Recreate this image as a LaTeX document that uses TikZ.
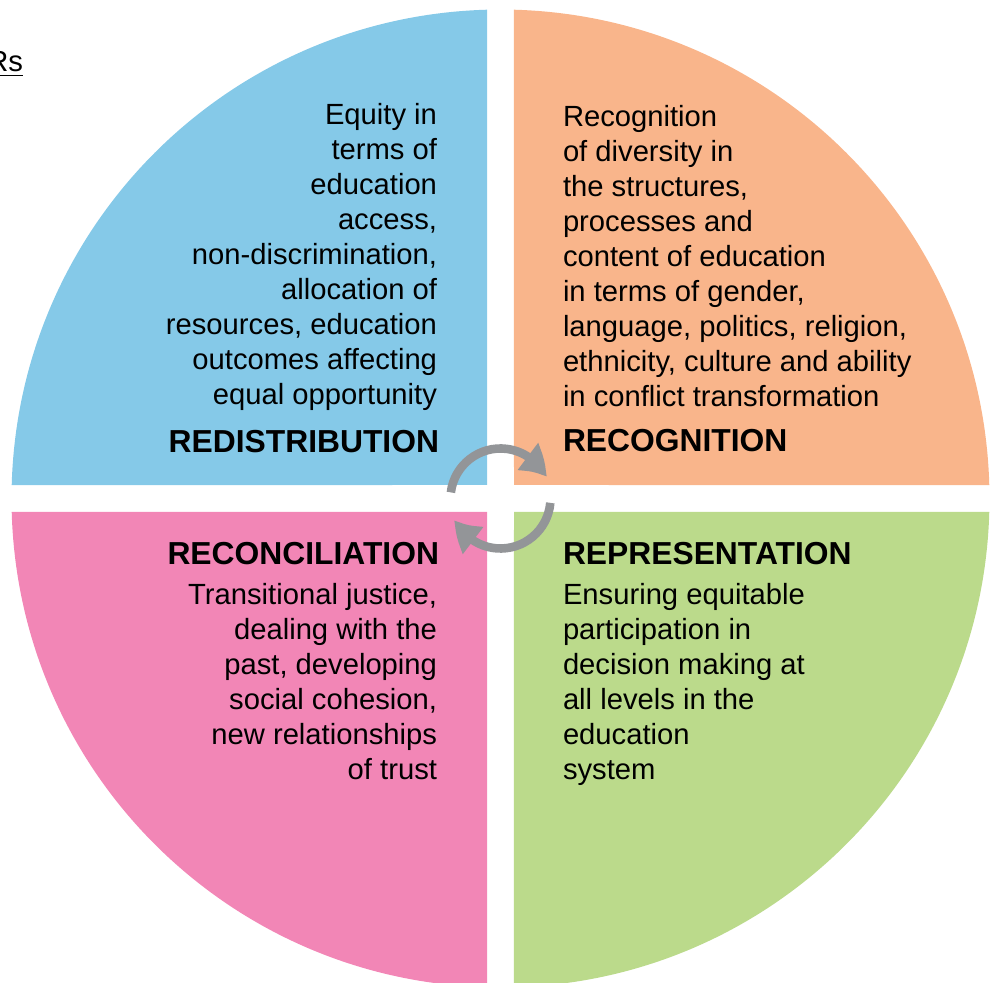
\documentclass[tikz,border=0pt]{standalone}
\usepackage{fontspec}
\setmainfont{Liberation Sans}
\usepackage{tikz}
\usetikzlibrary{arrows.meta,bending,calc}
\definecolor{redistcol}{RGB}{133,201,232}
\definecolor{recogcol}{RGB}{249,181,139}
\definecolor{reconcol}{RGB}{242,134,182}
\definecolor{represcol}{RGB}{187,218,139}
\definecolor{arrowgray}{RGB}{147,149,152}
\tikzstyle{qtext}=[inner sep=0, outer sep=0, text=black,
                   font=\fontsize{14.6}{17.5}\selectfont]
\tikzstyle{qtitle}=[inner sep=0, outer sep=0, text=black,
                    font=\fontsize{15.9}{18}\selectfont\bfseries]
\tikzstyle{cycarrow}=[draw=arrowgray, line width=4.3pt,
                      -{Triangle[length=14pt,width=16pt,bend]}]

\begin{document}
\begin{tikzpicture}[x=0.5pt,y=0.5pt]
\useasboundingbox (0,0) rectangle (998,-983);
\coordinate (c) at (500.5,-498.5);
% four quarters, white cross between them
\foreach \col/\a in {recogcol/0, redistcol/90, reconcol/180, represcol/270}
  \fill[\col] ($(c)+(\a+45:19.09)$) -- ($(c)+(\a+1.58:489)$)
    arc[start angle=\a+1.58, end angle=\a+88.42, radius=489] -- cycle;
\node[qtext, anchor=base east] (rs) at (23,-72) {\underline{Rs}};
% base = last line
\node[qtext, align=right, anchor=base east] (redist) at (437,-405)
  {Equity in\\terms of\\education\\access,\\non-discrimination,\\allocation of\\
   resources, education\\outcomes affecting\\equal opportunity};
\node[qtitle, anchor=base east] (redistT) at (439,-453) {REDISTRIBUTION};
\node[qtext, align=left, anchor=base west] (recog) at (563,-407)
  {Recognition\\of diversity in\\the structures,\\processes and\\
   content of education\\in terms of gender,\\language, politics, religion,\\
   ethnicity, culture and ability\\in conflict transformation};
\node[qtitle, anchor=base west] (recogT) at (563,-452) {RECOGNITION};
\node[qtitle, anchor=base east] (reconT) at (439,-565) {RECONCILIATION};
\node[qtext, align=right, anchor=base east] (recon) at (437,-780)
  {Transitional justice,\\dealing with the\\past, developing\\social cohesion,\\
   new relationships\\of trust};
\node[qtitle, anchor=base west] (represT) at (563,-565) {REPRESENTATION};
\node[qtext, align=left, anchor=base west] (repres) at (563,-780)
  {Ensuring equitable\\participation in\\decision making at\\all levels in the\\
   education\\system};
% cycle arrows
\coordinate (topstart) at ($(c)+(173:50)$);
\coordinate (botstart) at ($(c)+(-5:50)$);
\draw[cycarrow] (topstart) arc[start angle=173, end angle=25, radius=50];
\draw[cycarrow] (botstart) arc[start angle=-5, end angle=-155, radius=50];
\end{tikzpicture}
\end{document}
